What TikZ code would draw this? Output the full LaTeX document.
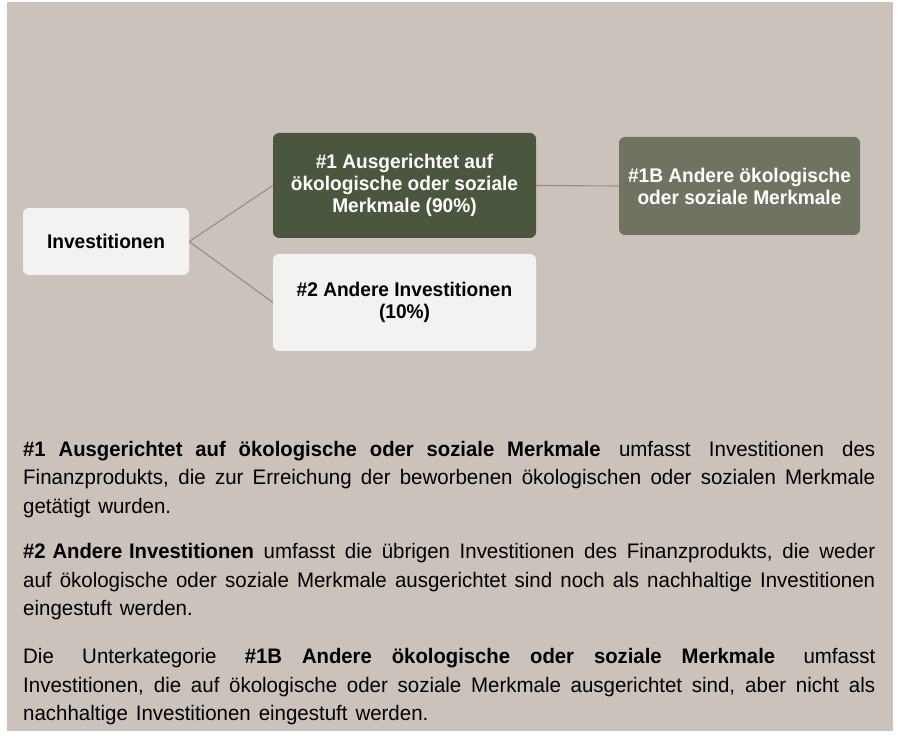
\documentclass[tikz,border=0pt]{standalone}
\usepackage{fontspec}
\setmainfont{Liberation Sans}[FakeStretch=0.975, WordSpace=1.4,
  BoldFeatures={FakeStretch=0.965, WordSpace=1.0}]
\definecolor{bgbeige}{HTML}{CBC2BC}
\definecolor{darkgreen}{HTML}{4B563F}
\definecolor{midgreen}{HTML}{6F7462}
\definecolor{lightbox}{HTML}{F3F2F0}
\definecolor{linkcol}{HTML}{9C8B7D}
\hbadness=10000
\hyphenpenalty=10000\relax
\exhyphenpenalty=10000\relax
\begin{document}
\begin{tikzpicture}[x=1pt,y=-1pt,
  box/.style={rounded corners=6pt, inner sep=0pt, align=center,
    font=\fontsize{19.8}{22}\selectfont\bfseries},
  link/.style={draw=linkcol, line width=1.1pt},
  para/.style={anchor=base west, inner sep=0pt, text width=852pt, align=justify,
    font=\fontsize{21}{28.7}\selectfont}]
\useasboundingbox (0,0) rectangle (898,738);
\fill[white] (0,0) rectangle (898,738);
\fill[bgbeige] (7,2) rectangle (893,731);

\node[box, fill=lightbox, minimum width=166pt, minimum height=67pt] (inv) at (106,241.5) {Investitionen};
\node[box, fill=darkgreen, text=white, minimum width=263pt, minimum height=105pt] (one) at (404.5,185.5) {\#1 Ausgerichtet auf\\ökologische oder soziale\\Merkmale (90\%)};
\node[box, fill=lightbox, minimum width=263pt, minimum height=97pt] (two) at (404.5,302.5) {\#2 Andere Investitionen\\(10\%)};
\node[box, fill=midgreen, text=white, minimum width=241pt, minimum height=98pt] (oneb) at (739.5,186) {\#1B Andere ökologische\\oder soziale Merkmale};

\draw[link] (inv.east) -- (one.west);
\draw[link] (inv.east) -- (two.west);
\draw[link] (one.east) -- (oneb.west);

\node[para] (p1) at (23,456) {\textbf{\#1 Ausgerichtet auf ökologische oder soziale Merkmale} umfasst Investitionen des\linebreak Finanzprodukts, die zur Erreichung der beworbenen ökologischen oder sozialen Merkmale\linebreak getätigt wurden.};
\node[para] (p2) at (23,558.3) {\textbf{\#2 Andere Investitionen} umfasst die übrigen Investitionen des Finanzprodukts, die weder\linebreak auf ökologische oder soziale Merkmale ausgerichtet sind noch als nachhaltige Investitionen\linebreak eingestuft werden.};
\node[para] (p3) at (23,663.3) {Die Unterkategorie \textbf{\#1B Andere ökologische oder soziale Merkmale} umfasst\linebreak Investitionen, die auf ökologische oder soziale Merkmale ausgerichtet sind, aber nicht als\linebreak nachhaltige Investitionen eingestuft werden.};
\end{tikzpicture}
\end{document}
